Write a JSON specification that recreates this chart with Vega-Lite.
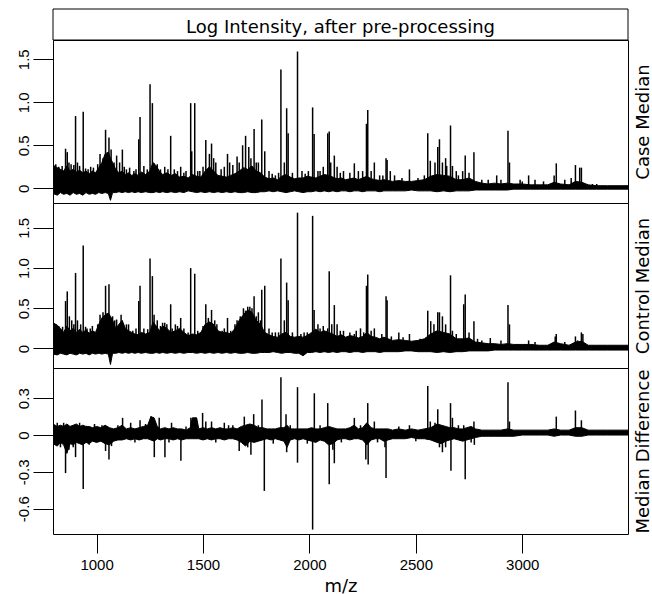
{
"$schema": "https://vega.github.io/schema/vega-lite/v6.json",
"padding": {"left": 5, "top": 8, "right": 0, "bottom": 0},
"background": "white",
"spacing": 0,
"bounds": "flush",
"config": {
  "view": {"stroke": "black", "strokeWidth": 1},
  "axis": {"domain": false, "grid": false, "tickColor": "black", "tickWidth": 1, "labelColor": "black", "labelFont": "Liberation Sans", "labelFontSize": 15, "titleFont": "DejaVu Sans", "titleFontSize": 18, "titleFontWeight": "normal", "titleColor": "black"}
},
"datasets": {
"caseEnv": [
{"mz":795,"lo":-0.06,"hi":0.27},{"mz":815,"lo":-0.08,"hi":0.24},{"mz":830,"lo":-0.05,"hi":0.22},{"mz":845,"lo":-0.07,"hi":0.2},{"mz":860,"lo":-0.06,"hi":0.26},{"mz":875,"lo":-0.08,"hi":0.2},{"mz":890,"lo":-0.05,"hi":0.22},{"mz":905,"lo":-0.07,"hi":0.19},{"mz":920,"lo":-0.06,"hi":0.21},{"mz":935,"lo":-0.08,"hi":0.18},{"mz":950,"lo":-0.05,"hi":0.2},{"mz":965,"lo":-0.07,"hi":0.17},{"mz":980,"lo":-0.06,"hi":0.2},{"mz":995,"lo":-0.07,"hi":0.18},
{"mz":1010,"lo":-0.05,"hi":0.24},{"mz":1025,"lo":-0.06,"hi":0.3},{"mz":1040,"lo":-0.05,"hi":0.4},{"mz":1055,"lo":-0.06,"hi":0.42},{"mz":1065,"lo":-0.14,"hi":0.35},{"mz":1075,"lo":-0.05,"hi":0.3},{"mz":1090,"lo":-0.05,"hi":0.22},{"mz":1105,"lo":-0.04,"hi":0.18},{"mz":1120,"lo":-0.05,"hi":0.2},{"mz":1135,"lo":-0.04,"hi":0.16},{"mz":1150,"lo":-0.05,"hi":0.18},{"mz":1165,"lo":-0.04,"hi":0.15},{"mz":1180,"lo":-0.05,"hi":0.17},{"mz":1195,"lo":-0.04,"hi":0.15},
{"mz":1210,"lo":-0.05,"hi":0.19},{"mz":1230,"lo":-0.04,"hi":0.16},{"mz":1250,"lo":-0.05,"hi":0.2},{"mz":1265,"lo":-0.05,"hi":0.3},{"mz":1280,"lo":-0.04,"hi":0.26},{"mz":1295,"lo":-0.05,"hi":0.2},{"mz":1310,"lo":-0.04,"hi":0.16},{"mz":1330,"lo":-0.05,"hi":0.18},{"mz":1350,"lo":-0.04,"hi":0.15},{"mz":1370,"lo":-0.05,"hi":0.17},{"mz":1390,"lo":-0.04,"hi":0.13},{"mz":1410,"lo":-0.05,"hi":0.14},{"mz":1430,"lo":-0.03,"hi":0.12},{"mz":1450,"lo":-0.04,"hi":0.16},{"mz":1470,"lo":-0.05,"hi":0.14},{"mz":1490,"lo":-0.04,"hi":0.13},
{"mz":1510,"lo":-0.05,"hi":0.2},{"mz":1530,"lo":-0.04,"hi":0.25},{"mz":1550,"lo":-0.05,"hi":0.2},{"mz":1570,"lo":-0.04,"hi":0.15},{"mz":1590,"lo":-0.05,"hi":0.14},{"mz":1610,"lo":-0.04,"hi":0.13},{"mz":1630,"lo":-0.05,"hi":0.15},{"mz":1650,"lo":-0.04,"hi":0.17},{"mz":1670,"lo":-0.05,"hi":0.2},{"mz":1690,"lo":-0.05,"hi":0.24},{"mz":1710,"lo":-0.04,"hi":0.22},{"mz":1730,"lo":-0.05,"hi":0.26},{"mz":1750,"lo":-0.05,"hi":0.2},{"mz":1770,"lo":-0.04,"hi":0.18},{"mz":1790,"lo":-0.04,"hi":0.13},
{"mz":1810,"lo":-0.03,"hi":0.11},{"mz":1830,"lo":-0.04,"hi":0.12},{"mz":1850,"lo":-0.03,"hi":0.1},{"mz":1870,"lo":-0.04,"hi":0.14},{"mz":1890,"lo":-0.05,"hi":0.16},{"mz":1910,"lo":-0.04,"hi":0.13},{"mz":1930,"lo":-0.03,"hi":0.11},{"mz":1950,"lo":-0.04,"hi":0.12},{"mz":1970,"lo":-0.05,"hi":0.12},{"mz":1990,"lo":-0.04,"hi":0.14},{"mz":2010,"lo":-0.04,"hi":0.13},{"mz":2030,"lo":-0.03,"hi":0.12},{"mz":2050,"lo":-0.04,"hi":0.14},{"mz":2070,"lo":-0.03,"hi":0.16},{"mz":2090,"lo":-0.04,"hi":0.15},
{"mz":2110,"lo":-0.03,"hi":0.13},{"mz":2130,"lo":-0.04,"hi":0.11},{"mz":2150,"lo":-0.03,"hi":0.12},{"mz":2170,"lo":-0.03,"hi":0.1},{"mz":2190,"lo":-0.04,"hi":0.11},{"mz":2210,"lo":-0.03,"hi":0.12},{"mz":2230,"lo":-0.03,"hi":0.1},{"mz":2250,"lo":-0.04,"hi":0.12},{"mz":2270,"lo":-0.03,"hi":0.14},{"mz":2290,"lo":-0.03,"hi":0.11},{"mz":2310,"lo":-0.03,"hi":0.1},{"mz":2330,"lo":-0.04,"hi":0.09},{"mz":2350,"lo":-0.03,"hi":0.1},{"mz":2370,"lo":-0.03,"hi":0.09},{"mz":2390,"lo":-0.03,"hi":0.08},
{"mz":2420,"lo":-0.03,"hi":0.09},{"mz":2450,"lo":-0.03,"hi":0.08},{"mz":2480,"lo":-0.02,"hi":0.08},{"mz":2510,"lo":-0.03,"hi":0.09},{"mz":2540,"lo":-0.03,"hi":0.1},{"mz":2570,"lo":-0.03,"hi":0.14},{"mz":2600,"lo":-0.04,"hi":0.16},{"mz":2630,"lo":-0.03,"hi":0.15},{"mz":2660,"lo":-0.04,"hi":0.14},{"mz":2690,"lo":-0.03,"hi":0.1},{"mz":2720,"lo":-0.03,"hi":0.1},{"mz":2750,"lo":-0.03,"hi":0.12},{"mz":2780,"lo":-0.02,"hi":0.08},
{"mz":2810,"lo":-0.02,"hi":0.06},{"mz":2840,"lo":-0.02,"hi":0.05},{"mz":2870,"lo":-0.02,"hi":0.06},{"mz":2900,"lo":-0.02,"hi":0.05},{"mz":2930,"lo":-0.02,"hi":0.06},{"mz":2960,"lo":-0.01,"hi":0.05},{"mz":3000,"lo":-0.01,"hi":0.05},{"mz":3040,"lo":-0.01,"hi":0.04},{"mz":3080,"lo":-0.01,"hi":0.04},{"mz":3120,"lo":-0.01,"hi":0.04},{"mz":3150,"lo":-0.01,"hi":0.07},{"mz":3180,"lo":-0.01,"hi":0.05},{"mz":3220,"lo":-0.01,"hi":0.04},{"mz":3250,"lo":-0.01,"hi":0.08},{"mz":3280,"lo":-0.01,"hi":0.07},{"mz":3310,"lo":-0.01,"hi":0.04},{"mz":3350,"lo":-0.01,"hi":0.03},{"mz":3400,"lo":-0.01,"hi":0.03},{"mz":3450,"lo":-0.01,"hi":0.03},{"mz":3497,"lo":-0.01,"hi":0.03}
],
"casePk": [
{"mz":854,"v":0.46},{"mz":862,"v":0.42},{"mz":870,"v":0.3},{"mz":901,"v":0.84},{"mz":910,"v":0.3},{"mz":937,"v":0.89},{"mz":960,"v":0.22},{"mz":985,"v":0.24},{"mz":1016,"v":0.4},{"mz":1030,"v":0.35},{"mz":1042,"v":0.68},{"mz":1058,"v":0.59},{"mz":1068,"v":0.45},{"mz":1094,"v":0.38},{"mz":1108,"v":0.3},{"mz":1121,"v":0.45},{"mz":1140,"v":0.22},{"mz":1175,"v":0.2},{"mz":1198,"v":0.57},{"mz":1204,"v":0.83},{"mz":1251,"v":1.21},{"mz":1262,"v":0.99},{"mz":1270,"v":0.29},{"mz":1300,"v":0.22},{"mz":1320,"v":0.25},{"mz":1348,"v":0.61},{"mz":1365,"v":0.22},{"mz":1395,"v":0.25},{"mz":1420,"v":0.2},{"mz":1442,"v":0.99},{"mz":1447,"v":0.43},{"mz":1461,"v":0.99},{"mz":1485,"v":0.2},{"mz":1513,"v":0.56},{"mz":1530,"v":0.4},{"mz":1540,"v":0.52},{"mz":1560,"v":0.3},{"mz":1585,"v":0.22},{"mz":1615,"v":0.4},{"mz":1625,"v":0.3},{"mz":1660,"v":0.37},{"mz":1686,"v":0.5},{"mz":1700,"v":0.61},{"mz":1715,"v":0.48},{"mz":1740,"v":0.69},{"mz":1760,"v":0.3},{"mz":1776,"v":0.8},{"mz":1790,"v":0.43},{"mz":1810,"v":0.2},{"mz":1840,"v":0.15},{"mz":1866,"v":1.38},{"mz":1882,"v":0.3},{"mz":1893,"v":0.93},{"mz":1900,"v":0.64},{"mz":1944,"v":1.59},{"mz":1965,"v":0.2},{"mz":1995,"v":0.2},{"mz":2015,"v":0.94},{"mz":2022,"v":0.63},{"mz":2050,"v":0.2},{"mz":2086,"v":0.64},{"mz":2093,"v":0.66},{"mz":2117,"v":0.38},{"mz":2130,"v":0.25},{"mz":2160,"v":0.2},{"mz":2211,"v":0.29},{"mz":2230,"v":0.2},{"mz":2268,"v":0.75},{"mz":2274,"v":0.91},{"mz":2305,"v":0.3},{"mz":2330,"v":0.15},{"mz":2360,"v":0.35},{"mz":2365,"v":0.33},{"mz":2400,"v":0.15},{"mz":2470,"v":0.22},{"mz":2510,"v":0.12},{"mz":2556,"v":0.64},{"mz":2568,"v":0.32},{"mz":2603,"v":0.48},{"mz":2611,"v":0.57},{"mz":2625,"v":0.3},{"mz":2645,"v":0.26},{"mz":2663,"v":0.73},{"mz":2672,"v":0.26},{"mz":2700,"v":0.15},{"mz":2732,"v":0.38},{"mz":2773,"v":0.42},{"mz":2840,"v":0.1},{"mz":2880,"v":0.15},{"mz":2933,"v":0.67},{"mz":2940,"v":0.3},{"mz":2990,"v":0.1},{"mz":3030,"v":0.15},{"mz":3150,"v":0.15},{"mz":3160,"v":0.29},{"mz":3250,"v":0.27},{"mz":3270,"v":0.24},{"mz":3278,"v":0.24},{"mz":3330,"v":0.05},{"mz":3350,"v":0.05},
{"mz":808,"v":0.28},{"mz":822,"v":0.25},{"mz":838,"v":0.26},{"mz":880,"v":0.28},{"mz":893,"v":0.27},{"mz":920,"v":0.26},{"mz":948,"v":0.23},{"mz":972,"v":0.25},{"mz":1005,"v":0.28},{"mz":1082,"v":0.3},{"mz":1130,"v":0.25},{"mz":1155,"v":0.24},{"mz":1185,"v":0.22},{"mz":1222,"v":0.26},{"mz":1238,"v":0.22},{"mz":1285,"v":0.28},{"mz":1335,"v":0.22},{"mz":1380,"v":0.2},{"mz":1410,"v":0.18},{"mz":1475,"v":0.2},{"mz":1500,"v":0.25},{"mz":1550,"v":0.35},{"mz":1600,"v":0.25},{"mz":1640,"v":0.27},{"mz":1670,"v":0.3},{"mz":1725,"v":0.35},{"mz":1750,"v":0.3},{"mz":1825,"v":0.17},{"mz":1855,"v":0.18},{"mz":1920,"v":0.18},{"mz":1980,"v":0.17},{"mz":2040,"v":0.2},{"mz":2065,"v":0.25},{"mz":2100,"v":0.3},{"mz":2145,"v":0.18},{"mz":2190,"v":0.18},{"mz":2250,"v":0.2},{"mz":2290,"v":0.2},{"mz":2345,"v":0.15},{"mz":2380,"v":0.2},{"mz":2435,"v":0.12},{"mz":2540,"v":0.15},{"mz":2590,"v":0.3},{"mz":2640,"v":0.35},{"mz":2690,"v":0.2},{"mz":2720,"v":0.2},{"mz":2750,"v":0.18},{"mz":2810,"v":0.1},{"mz":2900,"v":0.1},{"mz":3000,"v":0.08},{"mz":3060,"v":0.1},{"mz":3100,"v":0.08},{"mz":3200,"v":0.1},{"mz":3230,"v":0.12}
],
"ctrlEnv": [
{"mz":795,"lo":-0.07,"hi":0.32},{"mz":815,"lo":-0.08,"hi":0.29},{"mz":830,"lo":-0.06,"hi":0.25},{"mz":845,"lo":-0.07,"hi":0.2},{"mz":860,"lo":-0.08,"hi":0.28},{"mz":875,"lo":-0.06,"hi":0.22},{"mz":890,"lo":-0.07,"hi":0.25},{"mz":905,"lo":-0.08,"hi":0.2},{"mz":920,"lo":-0.06,"hi":0.24},{"mz":935,"lo":-0.07,"hi":0.2},{"mz":950,"lo":-0.06,"hi":0.23},{"mz":965,"lo":-0.08,"hi":0.19},{"mz":980,"lo":-0.06,"hi":0.22},{"mz":995,"lo":-0.07,"hi":0.2},
{"mz":1010,"lo":-0.06,"hi":0.3},{"mz":1025,"lo":-0.07,"hi":0.38},{"mz":1040,"lo":-0.06,"hi":0.42},{"mz":1055,"lo":-0.07,"hi":0.44},{"mz":1065,"lo":-0.2,"hi":0.4},{"mz":1075,"lo":-0.06,"hi":0.35},{"mz":1090,"lo":-0.06,"hi":0.25},{"mz":1105,"lo":-0.05,"hi":0.3},{"mz":1120,"lo":-0.06,"hi":0.35},{"mz":1135,"lo":-0.05,"hi":0.25},{"mz":1150,"lo":-0.06,"hi":0.22},{"mz":1165,"lo":-0.05,"hi":0.2},{"mz":1180,"lo":-0.06,"hi":0.18},{"mz":1195,"lo":-0.05,"hi":0.17},
{"mz":1210,"lo":-0.06,"hi":0.2},{"mz":1230,"lo":-0.05,"hi":0.18},{"mz":1250,"lo":-0.06,"hi":0.2},{"mz":1265,"lo":-0.06,"hi":0.33},{"mz":1280,"lo":-0.05,"hi":0.28},{"mz":1295,"lo":-0.06,"hi":0.22},{"mz":1310,"lo":-0.05,"hi":0.28},{"mz":1330,"lo":-0.06,"hi":0.25},{"mz":1350,"lo":-0.05,"hi":0.2},{"mz":1370,"lo":-0.06,"hi":0.22},{"mz":1390,"lo":-0.05,"hi":0.25},{"mz":1410,"lo":-0.06,"hi":0.2},{"mz":1430,"lo":-0.05,"hi":0.16},{"mz":1450,"lo":-0.05,"hi":0.18},{"mz":1470,"lo":-0.06,"hi":0.17},{"mz":1490,"lo":-0.05,"hi":0.2},
{"mz":1510,"lo":-0.06,"hi":0.3},{"mz":1530,"lo":-0.05,"hi":0.33},{"mz":1550,"lo":-0.06,"hi":0.3},{"mz":1570,"lo":-0.05,"hi":0.22},{"mz":1590,"lo":-0.06,"hi":0.2},{"mz":1610,"lo":-0.05,"hi":0.2},{"mz":1630,"lo":-0.06,"hi":0.18},{"mz":1650,"lo":-0.05,"hi":0.25},{"mz":1670,"lo":-0.06,"hi":0.35},{"mz":1690,"lo":-0.06,"hi":0.42},{"mz":1710,"lo":-0.05,"hi":0.48},{"mz":1730,"lo":-0.06,"hi":0.45},{"mz":1750,"lo":-0.06,"hi":0.35},{"mz":1770,"lo":-0.05,"hi":0.3},{"mz":1790,"lo":-0.05,"hi":0.2},
{"mz":1810,"lo":-0.05,"hi":0.17},{"mz":1830,"lo":-0.04,"hi":0.15},{"mz":1850,"lo":-0.05,"hi":0.14},{"mz":1870,"lo":-0.06,"hi":0.18},{"mz":1890,"lo":-0.05,"hi":0.2},{"mz":1910,"lo":-0.05,"hi":0.15},{"mz":1930,"lo":-0.06,"hi":0.14},{"mz":1950,"lo":-0.06,"hi":0.15},{"mz":1970,"lo":-0.09,"hi":0.14},{"mz":1990,"lo":-0.05,"hi":0.16},{"mz":2010,"lo":-0.05,"hi":0.2},{"mz":2030,"lo":-0.04,"hi":0.24},{"mz":2050,"lo":-0.05,"hi":0.2},{"mz":2070,"lo":-0.04,"hi":0.22},{"mz":2090,"lo":-0.05,"hi":0.2},
{"mz":2110,"lo":-0.04,"hi":0.18},{"mz":2130,"lo":-0.05,"hi":0.15},{"mz":2150,"lo":-0.04,"hi":0.17},{"mz":2170,"lo":-0.04,"hi":0.14},{"mz":2190,"lo":-0.05,"hi":0.16},{"mz":2210,"lo":-0.04,"hi":0.15},{"mz":2230,"lo":-0.04,"hi":0.13},{"mz":2250,"lo":-0.05,"hi":0.15},{"mz":2270,"lo":-0.04,"hi":0.2},{"mz":2290,"lo":-0.04,"hi":0.15},{"mz":2310,"lo":-0.04,"hi":0.14},{"mz":2330,"lo":-0.05,"hi":0.12},{"mz":2350,"lo":-0.04,"hi":0.14},{"mz":2370,"lo":-0.04,"hi":0.12},{"mz":2390,"lo":-0.04,"hi":0.1},
{"mz":2420,"lo":-0.04,"hi":0.11},{"mz":2450,"lo":-0.03,"hi":0.1},{"mz":2480,"lo":-0.03,"hi":0.09},{"mz":2510,"lo":-0.04,"hi":0.1},{"mz":2540,"lo":-0.04,"hi":0.12},{"mz":2570,"lo":-0.04,"hi":0.18},{"mz":2600,"lo":-0.05,"hi":0.22},{"mz":2630,"lo":-0.04,"hi":0.2},{"mz":2660,"lo":-0.05,"hi":0.18},{"mz":2690,"lo":-0.04,"hi":0.12},{"mz":2720,"lo":-0.04,"hi":0.12},{"mz":2750,"lo":-0.03,"hi":0.13},{"mz":2780,"lo":-0.03,"hi":0.08},
{"mz":2810,"lo":-0.03,"hi":0.07},{"mz":2840,"lo":-0.03,"hi":0.06},{"mz":2870,"lo":-0.02,"hi":0.06},{"mz":2900,"lo":-0.02,"hi":0.05},{"mz":2930,"lo":-0.02,"hi":0.06},{"mz":2960,"lo":-0.02,"hi":0.05},{"mz":3000,"lo":-0.02,"hi":0.05},{"mz":3040,"lo":-0.02,"hi":0.05},{"mz":3080,"lo":-0.02,"hi":0.04},{"mz":3120,"lo":-0.02,"hi":0.04},{"mz":3150,"lo":-0.02,"hi":0.08},{"mz":3180,"lo":-0.02,"hi":0.06},{"mz":3220,"lo":-0.02,"hi":0.04},{"mz":3250,"lo":-0.02,"hi":0.08},{"mz":3280,"lo":-0.02,"hi":0.09},{"mz":3310,"lo":-0.02,"hi":0.04},{"mz":3350,"lo":-0.02,"hi":0.04},{"mz":3400,"lo":-0.02,"hi":0.04},{"mz":3450,"lo":-0.02,"hi":0.04},{"mz":3497,"lo":-0.02,"hi":0.04}
],
"ctrlPk": [
{"mz":854,"v":0.59},{"mz":862,"v":0.71},{"mz":872,"v":0.4},{"mz":901,"v":0.94},{"mz":910,"v":0.35},{"mz":937,"v":1.28},{"mz":955,"v":0.25},{"mz":980,"v":0.28},{"mz":1016,"v":0.42},{"mz":1030,"v":0.45},{"mz":1042,"v":0.78},{"mz":1058,"v":0.8},{"mz":1075,"v":0.4},{"mz":1094,"v":0.36},{"mz":1115,"v":0.42},{"mz":1140,"v":0.3},{"mz":1170,"v":0.22},{"mz":1198,"v":0.59},{"mz":1204,"v":0.78},{"mz":1251,"v":1.12},{"mz":1262,"v":0.9},{"mz":1270,"v":0.42},{"mz":1310,"v":0.32},{"mz":1330,"v":0.3},{"mz":1348,"v":0.55},{"mz":1370,"v":0.3},{"mz":1395,"v":0.38},{"mz":1442,"v":1.0},{"mz":1461,"v":0.93},{"mz":1513,"v":0.55},{"mz":1540,"v":0.48},{"mz":1565,"v":0.3},{"mz":1590,"v":0.22},{"mz":1615,"v":0.38},{"mz":1640,"v":0.2},{"mz":1660,"v":0.35},{"mz":1690,"v":0.5},{"mz":1720,"v":0.52},{"mz":1740,"v":0.65},{"mz":1760,"v":0.45},{"mz":1776,"v":0.73},{"mz":1790,"v":0.78},{"mz":1810,"v":0.25},{"mz":1840,"v":0.2},{"mz":1866,"v":1.12},{"mz":1882,"v":0.35},{"mz":1893,"v":0.82},{"mz":1900,"v":0.6},{"mz":1944,"v":1.69},{"mz":1975,"v":0.2},{"mz":2015,"v":1.65},{"mz":2022,"v":0.48},{"mz":2050,"v":0.25},{"mz":2086,"v":0.25},{"mz":2093,"v":0.96},{"mz":2117,"v":0.54},{"mz":2130,"v":0.3},{"mz":2160,"v":0.22},{"mz":2211,"v":0.18},{"mz":2240,"v":0.25},{"mz":2268,"v":0.78},{"mz":2274,"v":0.92},{"mz":2305,"v":0.25},{"mz":2360,"v":0.65},{"mz":2365,"v":0.6},{"mz":2420,"v":0.2},{"mz":2470,"v":0.18},{"mz":2556,"v":0.47},{"mz":2570,"v":0.34},{"mz":2603,"v":0.45},{"mz":2611,"v":0.45},{"mz":2625,"v":0.4},{"mz":2663,"v":0.91},{"mz":2672,"v":0.22},{"mz":2725,"v":0.55},{"mz":2732,"v":0.67},{"mz":2773,"v":0.34},{"mz":2790,"v":0.12},{"mz":2850,"v":0.13},{"mz":2933,"v":0.54},{"mz":2940,"v":0.3},{"mz":3030,"v":0.1},{"mz":3155,"v":0.15},{"mz":3160,"v":0.18},{"mz":3250,"v":0.15},{"mz":3278,"v":0.2},{"mz":3285,"v":0.18},
{"mz":808,"v":0.3},{"mz":822,"v":0.28},{"mz":840,"v":0.27},{"mz":883,"v":0.35},{"mz":893,"v":0.3},{"mz":925,"v":0.3},{"mz":948,"v":0.27},{"mz":970,"v":0.25},{"mz":1005,"v":0.3},{"mz":1085,"v":0.35},{"mz":1125,"v":0.3},{"mz":1150,"v":0.3},{"mz":1185,"v":0.25},{"mz":1222,"v":0.25},{"mz":1240,"v":0.24},{"mz":1285,"v":0.35},{"mz":1300,"v":0.28},{"mz":1320,"v":0.32},{"mz":1355,"v":0.25},{"mz":1380,"v":0.28},{"mz":1410,"v":0.25},{"mz":1430,"v":0.2},{"mz":1475,"v":0.22},{"mz":1500,"v":0.28},{"mz":1525,"v":0.38},{"mz":1555,"v":0.35},{"mz":1600,"v":0.25},{"mz":1630,"v":0.22},{"mz":1650,"v":0.3},{"mz":1675,"v":0.4},{"mz":1700,"v":0.47},{"mz":1710,"v":0.52},{"mz":1730,"v":0.5},{"mz":1750,"v":0.4},{"mz":1770,"v":0.35},{"mz":1825,"v":0.2},{"mz":1855,"v":0.2},{"mz":1920,"v":0.2},{"mz":1960,"v":0.18},{"mz":1990,"v":0.2},{"mz":2040,"v":0.3},{"mz":2065,"v":0.28},{"mz":2105,"v":0.3},{"mz":2145,"v":0.22},{"mz":2190,"v":0.2},{"mz":2220,"v":0.22},{"mz":2255,"v":0.2},{"mz":2290,"v":0.22},{"mz":2340,"v":0.18},{"mz":2385,"v":0.15},{"mz":2440,"v":0.14},{"mz":2520,"v":0.12},{"mz":2585,"v":0.3},{"mz":2640,"v":0.3},{"mz":2690,"v":0.18},{"mz":2750,"v":0.2},{"mz":2810,"v":0.1},{"mz":2900,"v":0.1},{"mz":3060,"v":0.08},{"mz":3200,"v":0.08},{"mz":3260,"v":0.1}
],
"diffEnv": [
{"mz":795,"lo":-0.07,"hi":0.09},{"mz":815,"lo":-0.09,"hi":0.07},{"mz":830,"lo":-0.06,"hi":0.08},{"mz":845,"lo":-0.08,"hi":0.07},{"mz":860,"lo":-0.15,"hi":0.09},{"mz":875,"lo":-0.07,"hi":0.07},{"mz":890,"lo":-0.08,"hi":0.08},{"mz":905,"lo":-0.06,"hi":0.09},{"mz":920,"lo":-0.07,"hi":0.07},{"mz":935,"lo":-0.08,"hi":0.08},{"mz":950,"lo":-0.06,"hi":0.07},{"mz":965,"lo":-0.07,"hi":0.07},{"mz":980,"lo":-0.05,"hi":0.06},
{"mz":1000,"lo":-0.06,"hi":0.07},{"mz":1020,"lo":-0.05,"hi":0.06},{"mz":1040,"lo":-0.07,"hi":0.08},{"mz":1060,"lo":-0.08,"hi":0.06},{"mz":1080,"lo":-0.05,"hi":0.05},{"mz":1100,"lo":-0.04,"hi":0.06},{"mz":1120,"lo":-0.04,"hi":0.08},{"mz":1140,"lo":-0.03,"hi":0.05},{"mz":1160,"lo":-0.04,"hi":0.06},{"mz":1180,"lo":-0.03,"hi":0.05},{"mz":1200,"lo":-0.04,"hi":0.06},{"mz":1220,"lo":-0.03,"hi":0.07},{"mz":1240,"lo":-0.03,"hi":0.08},{"mz":1255,"lo":-0.04,"hi":0.15},{"mz":1270,"lo":-0.05,"hi":0.14},{"mz":1285,"lo":-0.03,"hi":0.07},
{"mz":1300,"lo":-0.04,"hi":0.05},{"mz":1320,"lo":-0.03,"hi":0.06},{"mz":1340,"lo":-0.03,"hi":0.05},{"mz":1360,"lo":-0.04,"hi":0.06},{"mz":1380,"lo":-0.03,"hi":0.05},{"mz":1400,"lo":-0.04,"hi":0.05},{"mz":1420,"lo":-0.03,"hi":0.04},{"mz":1440,"lo":-0.03,"hi":0.06},{"mz":1450,"lo":-0.03,"hi":0.14},{"mz":1470,"lo":-0.03,"hi":0.14},{"mz":1480,"lo":-0.03,"hi":0.05},{"mz":1500,"lo":-0.04,"hi":0.06},{"mz":1520,"lo":-0.03,"hi":0.05},{"mz":1540,"lo":-0.04,"hi":0.06},{"mz":1560,"lo":-0.03,"hi":0.05},{"mz":1580,"lo":-0.03,"hi":0.06},
{"mz":1600,"lo":-0.04,"hi":0.05},{"mz":1620,"lo":-0.03,"hi":0.05},{"mz":1640,"lo":-0.03,"hi":0.06},{"mz":1660,"lo":-0.04,"hi":0.05},{"mz":1680,"lo":-0.06,"hi":0.07},{"mz":1700,"lo":-0.09,"hi":0.08},{"mz":1720,"lo":-0.05,"hi":0.09},{"mz":1740,"lo":-0.06,"hi":0.08},{"mz":1760,"lo":-0.05,"hi":0.06},{"mz":1780,"lo":-0.04,"hi":0.06},{"mz":1800,"lo":-0.03,"hi":0.05},{"mz":1820,"lo":-0.04,"hi":0.05},{"mz":1840,"lo":-0.03,"hi":0.05},{"mz":1860,"lo":-0.04,"hi":0.06},{"mz":1880,"lo":-0.05,"hi":0.06},{"mz":1895,"lo":-0.1,"hi":0.08},
{"mz":1910,"lo":-0.04,"hi":0.05},{"mz":1930,"lo":-0.03,"hi":0.05},{"mz":1950,"lo":-0.04,"hi":0.05},{"mz":1970,"lo":-0.03,"hi":0.05},{"mz":1990,"lo":-0.04,"hi":0.05},{"mz":2010,"lo":-0.05,"hi":0.06},{"mz":2030,"lo":-0.06,"hi":0.05},{"mz":2050,"lo":-0.04,"hi":0.05},{"mz":2070,"lo":-0.05,"hi":0.06},{"mz":2090,"lo":-0.08,"hi":0.07},{"mz":2110,"lo":-0.07,"hi":0.06},{"mz":2130,"lo":-0.04,"hi":0.05},{"mz":2150,"lo":-0.03,"hi":0.05},{"mz":2170,"lo":-0.03,"hi":0.05},{"mz":2190,"lo":-0.04,"hi":0.06},
{"mz":2210,"lo":-0.03,"hi":0.08},{"mz":2230,"lo":-0.03,"hi":0.05},{"mz":2250,"lo":-0.04,"hi":0.06},{"mz":2270,"lo":-0.08,"hi":0.1},{"mz":2290,"lo":-0.04,"hi":0.06},{"mz":2310,"lo":-0.03,"hi":0.05},{"mz":2330,"lo":-0.03,"hi":0.05},{"mz":2350,"lo":-0.05,"hi":0.05},{"mz":2370,"lo":-0.04,"hi":0.05},{"mz":2390,"lo":-0.03,"hi":0.04},{"mz":2420,"lo":-0.03,"hi":0.05},{"mz":2450,"lo":-0.03,"hi":0.04},{"mz":2480,"lo":-0.02,"hi":0.05},{"mz":2510,"lo":-0.03,"hi":0.04},{"mz":2540,"lo":-0.03,"hi":0.05},
{"mz":2570,"lo":-0.04,"hi":0.06},{"mz":2600,"lo":-0.06,"hi":0.09},{"mz":2620,"lo":-0.07,"hi":0.08},{"mz":2640,"lo":-0.05,"hi":0.07},{"mz":2660,"lo":-0.04,"hi":0.06},{"mz":2680,"lo":-0.03,"hi":0.06},{"mz":2700,"lo":-0.04,"hi":0.05},{"mz":2720,"lo":-0.05,"hi":0.05},{"mz":2740,"lo":-0.04,"hi":0.06},{"mz":2760,"lo":-0.03,"hi":0.07},{"mz":2780,"lo":-0.02,"hi":0.05},
{"mz":2810,"lo":-0.01,"hi":0.04},{"mz":2840,"lo":-0.01,"hi":0.04},{"mz":2870,"lo":-0.01,"hi":0.04},{"mz":2900,"lo":-0.01,"hi":0.04},{"mz":2930,"lo":-0.01,"hi":0.05},{"mz":2960,"lo":-0.01,"hi":0.04},{"mz":3000,"lo":0.0,"hi":0.04},{"mz":3040,"lo":0.0,"hi":0.04},{"mz":3080,"lo":0.0,"hi":0.04},{"mz":3120,"lo":0.0,"hi":0.04},{"mz":3150,"lo":-0.01,"hi":0.05},{"mz":3180,"lo":0.0,"hi":0.04},{"mz":3220,"lo":0.0,"hi":0.04},{"mz":3250,"lo":-0.01,"hi":0.06},{"mz":3280,"lo":-0.01,"hi":0.06},{"mz":3310,"lo":0.0,"hi":0.04},{"mz":3350,"lo":0.0,"hi":0.04},{"mz":3400,"lo":0.0,"hi":0.04},{"mz":3450,"lo":0.0,"hi":0.04},{"mz":3497,"lo":0.0,"hi":0.04}
],
"diffPk": [
{"mz":854,"v":-0.31},{"mz":862,"v":-0.14},{"mz":870,"v":-0.12},{"mz":901,"v":-0.18},{"mz":937,"v":-0.44},{"mz":1042,"v":-0.13},{"mz":1058,"v":-0.2},{"mz":1122,"v":0.14},{"mz":1160,"v":0.1},{"mz":1204,"v":0.12},{"mz":1255,"v":0.15},{"mz":1271,"v":-0.18},{"mz":1294,"v":0.14},{"mz":1321,"v":-0.18},{"mz":1352,"v":0.1},{"mz":1396,"v":-0.21},{"mz":1443,"v":0.14},{"mz":1467,"v":0.14},{"mz":1498,"v":0.18},{"mz":1513,"v":0.11},{"mz":1540,"v":0.11},{"mz":1600,"v":0.1},{"mz":1640,"v":0.08},{"mz":1670,"v":-0.13},{"mz":1694,"v":0.15},{"mz":1725,"v":-0.16},{"mz":1738,"v":0.17},{"mz":1777,"v":0.29},{"mz":1788,"v":-0.455},{"mz":1866,"v":0.47},{"mz":1890,"v":0.17},{"mz":1893,"v":-0.14},{"mz":1944,"v":0.39},{"mz":1944,"v":-0.225},{"mz":2015,"v":-0.77},{"mz":2023,"v":0.34},{"mz":2086,"v":0.26},{"mz":2093,"v":-0.4},{"mz":2110,"v":-0.12},{"mz":2117,"v":-0.23},{"mz":2211,"v":0.14},{"mz":2265,"v":-0.2},{"mz":2274,"v":0.26},{"mz":2276,"v":-0.24},{"mz":2305,"v":0.11},{"mz":2355,"v":-0.1},{"mz":2360,"v":-0.35},{"mz":2470,"v":0.08},{"mz":2556,"v":0.4},{"mz":2568,"v":0.11},{"mz":2603,"v":0.21},{"mz":2611,"v":-0.1},{"mz":2625,"v":-0.14},{"mz":2663,"v":0.26},{"mz":2665,"v":-0.29},{"mz":2672,"v":0.14},{"mz":2725,"v":0.08},{"mz":2732,"v":-0.36},{"mz":2773,"v":0.11},{"mz":2775,"v":-0.08},{"mz":2933,"v":0.43},{"mz":2940,"v":0.11},{"mz":3160,"v":0.15},{"mz":3250,"v":0.2},{"mz":3278,"v":0.12},
{"mz":815,"v":0.1},{"mz":830,"v":-0.1},{"mz":845,"v":0.1},{"mz":890,"v":-0.1},{"mz":920,"v":0.1},{"mz":965,"v":-0.08},{"mz":990,"v":0.09},{"mz":1025,"v":0.08},{"mz":1070,"v":-0.09},{"mz":1100,"v":0.08},{"mz":1180,"v":-0.06},{"mz":1230,"v":0.09},{"mz":1340,"v":-0.06},{"mz":1420,"v":0.07},{"mz":1560,"v":-0.06},{"mz":1620,"v":0.08},{"mz":1710,"v":-0.1},{"mz":1760,"v":0.08},{"mz":1830,"v":-0.07},{"mz":1910,"v":0.08},{"mz":1990,"v":-0.07},{"mz":2050,"v":0.08},{"mz":2150,"v":-0.06},{"mz":2240,"v":0.08},{"mz":2320,"v":-0.06},{"mz":2420,"v":0.07},{"mz":2500,"v":-0.05},{"mz":2590,"v":0.1},{"mz":2640,"v":-0.1},{"mz":2700,"v":0.08},{"mz":2760,"v":-0.06}
]
},
"vconcat": [
{
  "width": 575, "height": 31,
  "data": {"values": [{"t": "Log Intensity, after pre-processing"}]},
  "layer": [
    {"mark": {"type": "rect", "fill": "white", "stroke": "black", "strokeWidth": 1}, "encoding": {}},
    {"mark": {"type": "text", "font": "DejaVu Sans", "fontSize": 18, "baseline": "middle", "color": "black", "dy": 3},
     "encoding": {"text": {"field": "t"}}}
  ]
},
{
  "width": 575, "height": 163,
  "layer": [
    {"data": {"name": "caseEnv"}, "mark": {"type": "area", "color": "black", "stroke": "black", "strokeWidth": 1, "clip": true},
     "encoding": {
       "x": {"field": "mz", "type": "quantitative", "scale": {"domain": [795, 3497], "nice": false, "zero": false}, "axis": null},
       "y": {"field": "lo", "type": "quantitative", "scale": {"domain": [-0.171, 1.724], "nice": false, "zero": false},
             "axis": {"values": [0, 0.5, 1, 1.5], "labelExpr": "datum.value == 0 ? '0' : format(datum.value, '.1f')", "tickSize": 20, "labelAngle": 270, "labelAlign": "center", "labelBaseline": "alphabetic", "labelPadding": 5, "minExtent": 47, "maxExtent": 47, "title": null}},
       "y2": {"field": "hi"}}},
    {"data": {"name": "casePk"}, "mark": {"type": "rule", "color": "black", "strokeWidth": 1.5, "clip": true},
     "encoding": {
       "x": {"field": "mz", "type": "quantitative", "axis": null},
       "y": {"field": "v", "type": "quantitative", "axis": {"orient": "right", "ticks": false, "labels": false, "title": "Case Median", "titleAngle": 270, "titleAlign": "center", "titleBaseline": "top", "titlePadding": 6, "minExtent": 0}},
       "y2": {"datum": 0}}}
  ],
  "resolve": {"axis": {"y": "independent"}}
},
{
  "width": 575, "height": 165,
  "layer": [
    {"data": {"name": "ctrlEnv"}, "mark": {"type": "area", "color": "black", "stroke": "black", "strokeWidth": 1, "clip": true},
     "encoding": {
       "x": {"field": "mz", "type": "quantitative", "scale": {"domain": [795, 3497], "nice": false, "zero": false}, "axis": null},
       "y": {"field": "lo", "type": "quantitative", "scale": {"domain": [-0.243, 1.81], "nice": false, "zero": false},
             "axis": {"values": [0, 0.5, 1, 1.5], "labelExpr": "datum.value == 0 ? '0' : format(datum.value, '.1f')", "tickSize": 20, "labelAngle": 270, "labelAlign": "center", "labelBaseline": "alphabetic", "labelPadding": 5, "minExtent": 47, "maxExtent": 47, "title": null}},
       "y2": {"field": "hi"}}},
    {"data": {"name": "ctrlPk"}, "mark": {"type": "rule", "color": "black", "strokeWidth": 1.5, "clip": true},
     "encoding": {
       "x": {"field": "mz", "type": "quantitative", "axis": null},
       "y": {"field": "v", "type": "quantitative", "axis": {"orient": "right", "ticks": false, "labels": false, "title": "Control Median", "titleAngle": 270, "titleAlign": "center", "titleBaseline": "top", "titlePadding": 6, "minExtent": 0}},
       "y2": {"datum": 0}}}
  ],
  "resolve": {"axis": {"y": "independent"}}
},
{
  "width": 575, "height": 166,
  "layer": [
    {"data": {"name": "diffEnv"}, "mark": {"type": "area", "color": "black", "stroke": "black", "strokeWidth": 1, "clip": true},
     "encoding": {
       "x": {"field": "mz", "type": "quantitative", "scale": {"domain": [795, 3497], "nice": false, "zero": false},
             "axis": {"values": [1000, 1500, 2000, 2500, 3000], "format": "d", "tickSize": 19, "labelPadding": 4, "labelFlush": false, "labelOverlap": false, "title": "m/z", "titlePadding": 5}},
       "y": {"field": "lo", "type": "quantitative", "scale": {"domain": [-0.806, 0.546], "nice": false, "zero": false},
             "axis": {"values": [-0.6, -0.3, 0, 0.3], "labelExpr": "datum.value == 0 ? '0' : (datum.value < 0 ? '-' + format(-datum.value, '.1f') : format(datum.value, '.1f'))", "tickSize": 20, "labelAngle": 270, "labelAlign": "center", "labelBaseline": "alphabetic", "labelPadding": 5, "minExtent": 47, "maxExtent": 47, "title": null}},
       "y2": {"field": "hi"}}},
    {"data": {"name": "diffPk"}, "mark": {"type": "rule", "color": "black", "strokeWidth": 1.5, "clip": true},
     "encoding": {
       "x": {"field": "mz", "type": "quantitative",
             "axis": {"values": [1000, 1500, 2000, 2500, 3000], "format": "d", "tickSize": 19, "labelPadding": 4, "labelFlush": false, "labelOverlap": false, "title": "m/z", "titlePadding": 5}},
       "y": {"field": "v", "type": "quantitative", "axis": {"orient": "right", "ticks": false, "labels": false, "title": "Median Difference", "titleAngle": 270, "titleAlign": "center", "titleBaseline": "top", "titlePadding": 6, "minExtent": 0}},
       "y2": {"datum": 0}}}
  ],
  "resolve": {"axis": {"y": "independent"}}
}
]
}
